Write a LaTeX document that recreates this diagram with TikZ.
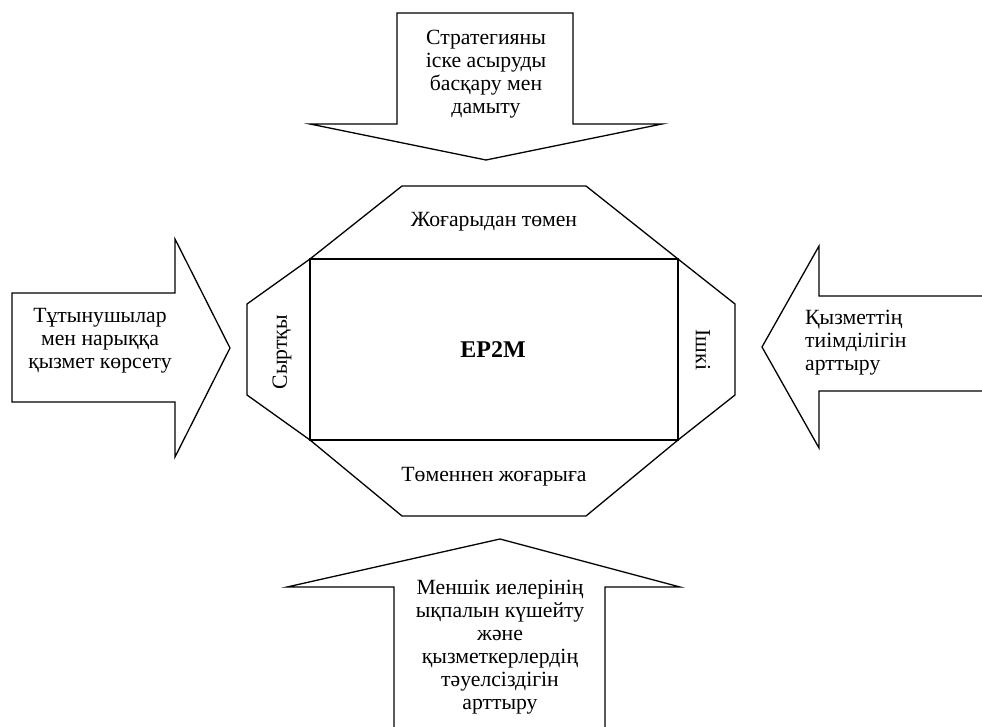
\documentclass[tikz,border=0pt]{standalone}
\usepackage{fontspec}
\setmainfont{Liberation Serif}
\begin{document}
\begin{tikzpicture}[x=1pt,y=-1pt,
  outl/.style={draw=black,line width=1.3pt,line join=miter},
  lbl/.style={font=\fontsize{21.7}{23}\selectfont,align=center,inner sep=0pt},
  lbll/.style={font=\fontsize{21.7}{23}\selectfont,align=left,inner sep=0pt,anchor=west}]
\useasboundingbox (0,0) rectangle (982,727);
% top arrow
\draw[outl] (397,13) -- (573,13) -- (573,124) -- (662,124) -- (486,160) -- (310,124) -- (397,124) -- cycle;
\node[lbl] (top) at (486,74) {Стратегияны\\іске асыруды\\басқару мен\\дамыту};
% left arrow
\draw[outl] (12,293) -- (175,293) -- (175,239) -- (230,348) -- (175,457) -- (175,402) -- (12,402) -- cycle;
\node[lbl] (left) at (100,341) {Тұтынушылар\\мен нарыққа\\қызмет көрсету};
% right arrow
\draw[outl] (982,296) -- (819,296) -- (819,246) -- (762,347) -- (819,448) -- (819,391) -- (982,391);
\node[lbll] (right) at (805,343) {Қызметтің\\тиімділігін\\арттыру};
% bottom arrow
\draw[outl] (394,727) -- (394,587) -- (287,587) -- (500,539) -- (680,587) -- (605,587) -- (605,727);
\node[lbl] (bottom) at (500,647) {Меншік иелерінің\\ықпалын күшейту\\және\\қызметкерлердің\\тәуелсіздігін\\арттыру};
% octagon
\draw[outl] (402,186) -- (586,186) -- (678,259) -- (735,304) -- (735,395) -- (678,440) -- (586,516) -- (402,516) -- (310,440) -- (247,395) -- (247,304) -- (310,259) -- cycle;
\draw[outl] (310,259) rectangle (678,440);
\node[lbl] (tb) at (494,222) {Жоғарыдан төмен};
\node[lbl] (bt) at (494,477) {Төменнен жоғарыға};
\node[lbl,rotate=90] (ext) at (282,352) {Сыртқы};
\node[lbl,rotate=-90] (int) at (703,350) {Ішкі};
\node[font=\fontsize{24}{26}\selectfont\bfseries,inner sep=0pt] (core) at (493,350) {EP2M};
\end{tikzpicture}
\end{document}
